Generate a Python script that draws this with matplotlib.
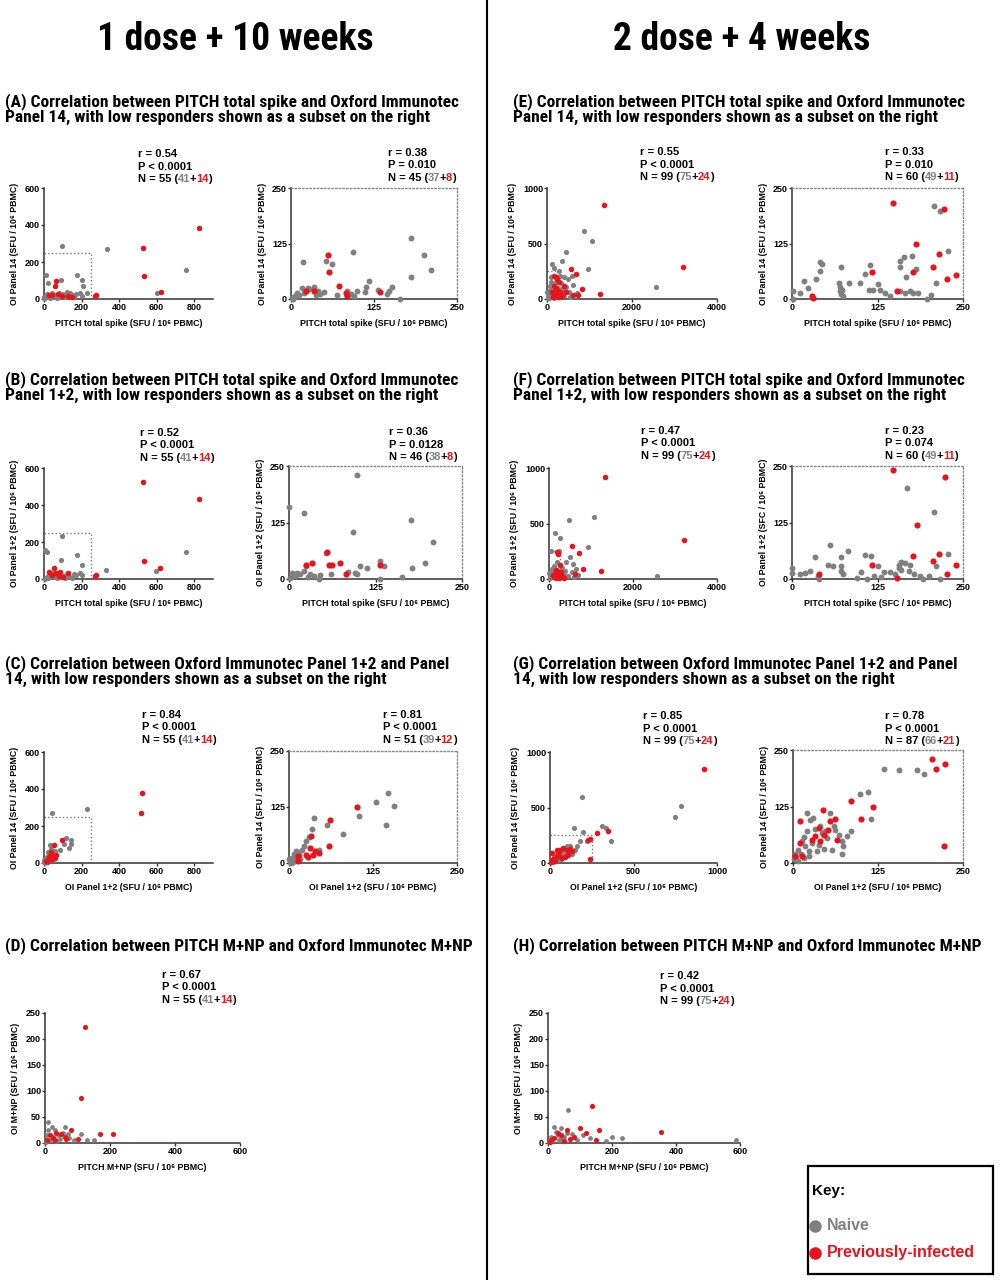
import numpy as np
import matplotlib
matplotlib.use('Agg')
import matplotlib.pyplot as plt
from matplotlib.patches import Rectangle

# ---------------- data ----------------
A_full_naive = [(98,288),(336,270),(754,158),(603,30),(178,131),(203,104),(208,68),(12,131),(21,86),(92,104),(120,40),(150,20),(170,25),(60,20),(40,20),(25,15),(10,10),(5,5),(80,30),(130,15),(110,10),(190,30),(230,35),(50,10),(70,5),(100,25),(140,30),(160,10),(30,5),(15,25),(85,15),(200,15),(45,30),(0,5),(2,12)]
A_full_prev = [(827,383),(528,275),(533,126),(62,95),(60,68),(279,23),(270,14),(622,38),(28,20),(40,22),(75,25),(95,15),(130,18),(150,12)]
A_sub_naive = [(18,84),(180,137),(94,106),(53,86),(61,78),(200,100),(211,65),(181,49),(118,40),(113,28),(99,17),(95,6),(131,21),(152,28),(148,17),(164,0),(34,28),(26,24),(16,24),(41,17),(44,12),(9,13),(4,4),(1,2),(111,15),(6,6),(12,10),(20,14),(27,22),(37,10),(50,15),(90,12),(145,12),(3,1),(85,18),(70,10),(2,3)]
A_sub_prev = [(55,98),(57,61),(72,30),(83,13),(84,6),(134,15),(34,19),(23,17)]

B_full_naive = [(94,230),(89,104),(176,128),(754,148),(599,41),(332,47),(203,77),(4,158),(18,144),(190,32),(172,23),(119,23),(60,10),(40,15),(20,8),(10,5),(30,20),(80,12),(100,18),(140,10),(160,25),(50,30),(70,5),(5,2),(110,8),(130,30),(150,5),(200,20),(25,30),(15,12)]
B_full_prev = [(528,524),(827,432),(532,99),(619,59),(53,59),(27,36),(84,36),(66,32),(130,32),(279,23),(270,18),(80,14),(40,20),(100,10)]
B_sub_naive = [(98,230),(0,159),(21,146),(93,105),(177,131),(208,81),(54,57),(103,28),(113,24),(131,39),(137,28),(178,24),(197,35),(132,0),(163,4),(95,13),(98,10),(31,12),(45,9),(36,6),(4,13),(7,6),(16,10),(24,28),(22,17),(10,9),(43,0),(60,10),(2,2),(12,14),(28,4),(85,15)]
B_sub_prev = [(25,32),(33,35),(55,60),(58,32),(62,32),(73,35),(83,12),(132,32)]

C_full_naive = [(229,290),(43,269),(142,104),(146,125),(133,81),(119,134),(30,98),(84,68),(57,63),(104,104),(35,75),(25,50),(20,35),(15,20),(10,10),(5,5),(2,15),(8,25),(12,5),(18,12),(40,30),(50,20),(30,15),(3,3),(60,40),(22,60),(0,8),(14,30)]
C_full_prev = [(524,381),(517,272),(98,125),(53,95),(30,36),(21,18),(57,27),(66,45),(35,60),(25,30),(40,40),(10,10),(15,5),(45,20)]
C_sub_naive = [(147,157),(129,137),(156,128),(144,84),(104,104),(81,64),(37,100),(34,76),(30,59),(57,84),(26,48),(23,38),(45,28),(19,30),(2,5),(5,12),(8,20),(10,26),(12,10),(15,18),(3,0),(6,2),(0,10),(14,25),(17,8),(9,15)]
C_sub_prev = [(101,124),(61,96),(60,37),(33,61),(31,33),(39,26),(35,18),(25,18),(29,13),(13,15),(14,4),(44,22)]

D_naive = [(10,40),(20,30),(5,15),(15,5),(40,15),(55,20),(75,10),(90,5),(130,5),(30,25),(45,8),(8,25),(110,18),(150,5),(60,30),(3,2),(25,12),(35,3),(70,18)]
D_prev = [(123,223),(110,87),(15,15),(25,10),(35,20),(50,18),(60,12),(80,25),(100,8),(170,18),(210,18),(5,5),(30,5),(65,8)]

E_full_naive = [(880,609),(1064,519),(456,420),(960,270),(344,339),(120,318),(160,279),(584,204),(2568,105),(300,210),(400,200),(500,180),(100,150),(200,150),(250,100),(350,90),(450,110),(520,60),(600,130),(60,80),(30,40),(80,30),(150,20),(50,10),(20,5),(300,40),(400,30),(700,50),(550,20),(10,60),(180,90),(120,100),(230,60),(330,140),(280,250),(90,200),(70,120),(40,20),(380,60),(160,10)]
E_full_prev = [(1336,849),(3208,285),(1248,48),(560,270),(688,225),(816,90),(736,39),(600,39),(160,210),(200,200),(240,180),(280,150),(160,120),(200,100),(240,80),(120,60),(180,50),(220,40),(300,60),(400,120),(450,60),(350,30),(130,20),(260,20)]
E_sub_naive = [(207,209),(217,198),(228,109),(164,94),(176,96),(158,85),(181,68),(158,72),(167,50),(210,37),(114,76),(106,57),(99,37),(112,21),(118,21),(126,33),(128,21),(136,13),(143,6),(158,17),(165,13),(172,17),(177,13),(184,13),(197,0),(203,10),(41,83),(44,78),(41,62),(35,45),(18,41),(24,24),(12,13),(1,19),(1,0),(71,73),(70,28),(73,21),(74,6),(68,35),(83,37),(72,12),(70,18)]
E_sub_prev = [(147,217),(222,202),(182,125),(215,101),(206,72),(177,61),(117,61),(226,45),(240,54),(154,17),(29,6),(31,3)]

F_full_naive = [(472,528),(1064,561),(936,284),(136,418),(256,373),(56,254),(240,254),(496,194),(576,134),(2576,24),(400,150),(300,100),(200,80),(100,60),(60,30),(150,20),(350,40),(450,30),(550,60),(650,90),(30,10),(10,50),(180,150),(120,120),(80,90),(700,40),(20,5),(250,40),(380,70),(600,20)]
F_full_prev = [(1336,919),(3208,352),(1240,69),(552,293),(712,233),(816,90),(616,45),(216,224),(256,125),(192,239),(180,60),(220,40),(260,30),(150,30),(300,25),(200,20),(240,50),(170,80),(120,15),(350,10),(280,60),(100,40),(230,10),(160,5)]
F_sub_naive = [(168,201),(208,148),(228,56),(210,28),(216,0),(82,63),(55,76),(34,48),(72,48),(106,54),(116,51),(126,28),(134,15),(144,15),(156,32),(160,37),(165,35),(172,32),(171,17),(157,24),(179,10),(191,0),(201,6),(187,6),(101,15),(109,0),(71,28),(71,17),(75,10),(60,28),(52,32),(40,0),(38,6),(26,17),(19,13),(11,12),(0,24),(0,13),(120,6),(160,20),(150,12),(130,5),(95,2)]
F_sub_prev = [(147,241),(223,225),(183,120),(177,51),(215,56),(206,39),(117,32),(226,12),(240,32),(154,2),(39,11)]

G_full_naive = [(190,597),(786,513),(750,412),(314,334),(334,319),(366,194),(200,275),(146,319),(180,200),(220,200),(100,155),(120,149),(70,110),(80,90),(60,70),(40,60),(30,40),(20,30),(10,20),(50,30),(90,60),(110,100),(130,80),(150,120),(5,10),(25,50),(45,90),(65,40),(15,5),(35,15),(160,150)]
G_full_prev = [(924,845),(350,290),(284,269),(230,203),(240,36),(60,119),(80,134),(100,119),(110,75),(40,60),(20,30),(50,90),(10,90),(70,45),(130,105),(240,220),(30,15),(55,60),(90,50),(15,40),(44,118),(5,5),(120,125)]
G_sub_naive = [(134,209),(156,206),(182,206),(192,198),(99,152),(110,156),(115,98),(72,48),(74,37),(57,28),(54,110),(30,99),(20,110),(25,96),(33,75),(20,70),(16,57),(13,48),(18,37),(8,29),(3,21),(1,9),(40,82),(47,70),(60,81),(67,62),(79,59),(42,66),(35,27),(23,15),(16,11),(8,4),(72,21),(23,26),(50,55),(28,45),(38,40),(12,20),(5,12),(62,72),(85,70),(45,30)]
G_sub_prev = [(205,229),(224,218),(211,208),(222,37),(118,125),(86,137),(100,98),(44,118),(55,94),(11,92),(10,44),(52,74),(33,59),(38,77),(40,48),(64,51),(13,15),(3,16),(45,62),(28,50),(62,98)]

H_naive = [(62,63),(587,6),(230,10),(10,12),(20,30),(30,15),(45,8),(60,20),(90,5),(110,15),(8,3),(15,8),(25,22),(35,5),(50,12),(75,18),(130,10),(180,4),(200,12),(2,1),(40,28)]
H_prev = [(137,71),(353,21),(60,25),(100,28),(120,20),(160,25),(40,15),(20,10),(10,5),(30,20),(80,12),(150,5),(70,8),(5,2),(50,3)]

# stats: r, P, N, naive n, previously-infected n
stats_A = [("0.54", "P < 0.0001", "55", "41", "14"), ("0.38", "P = 0.010", "45", "37", "8")]
stats_B = [("0.52", "P < 0.0001", "55", "41", "14"), ("0.36", "P = 0.0128", "46", "38", "8")]
stats_C = [("0.84", "P < 0.0001", "55", "41", "14"), ("0.81", "P < 0.0001", "51", "39", "12")]
stats_D = ("0.67", "P < 0.0001", "55", "41", "14")
stats_E = [("0.55", "P < 0.0001", "99", "75", "24"), ("0.33", "P = 0.010", "60", "49", "11")]
stats_F = [("0.47", "P < 0.0001", "99", "75", "24"), ("0.23", "P = 0.074", "60", "49", "11")]
stats_G = [("0.85", "P < 0.0001", "99", "75", "24"), ("0.78", "P < 0.0001", "87", "66", "21")]
stats_H = ("0.42", "P < 0.0001", "99", "75", "24")

GREY = '#808080'
RED = '#e8141c'
FONT = ['Liberation Sans', 'DejaVu Sans']
NARROW = ['Roboto Condensed', 'Liberation Sans Narrow', 'Liberation Sans', 'DejaVu Sans']
plt.rcParams['font.family'] = FONT

fig = plt.figure(figsize=(10, 12.8), dpi=100)
ov = fig.add_axes([0, 0, 1, 1])
ov.set_xlim(0, 1000); ov.set_ylim(1280, 0); ov.axis('off')
ov.patch.set_alpha(0)

ov.plot([487, 487], [0, 1280], color='black', lw=1.5)

ov.text(235, 40, "1 dose + 10 weeks", family=NARROW, fontsize=27, fontweight='bold', ha='center', va='center')
ov.text(742, 40, "2 dose + 4 weeks", family=NARROW, fontsize=27, fontweight='bold', ha='center', va='center')

def heading(x, y, s):
    ov.text(x, y, s, family=NARROW, fontsize=12.5, fontweight='bold', ha='left', va='center', linespacing=1.05)

heading(5, 109, "(A) Correlation between PITCH total spike and Oxford Immunotec\nPanel 14, with low responders shown as a subset on the right")
heading(5, 387, "(B) Correlation between PITCH total spike and Oxford Immunotec\nPanel 1+2, with low responders shown as a subset on the right")
heading(5, 671, "(C) Correlation between Oxford Immunotec Panel 1+2 and Panel\n14, with low responders shown as a subset on the right")
heading(5, 946, "(D) Correlation between PITCH M+NP and Oxford Immunotec M+NP")
heading(513, 109, "(E) Correlation between PITCH total spike and Oxford Immunotec\nPanel 14, with low responders shown as a subset on the right")
heading(513, 387, "(F) Correlation between PITCH total spike and Oxford Immunotec\nPanel 1+2, with low responders shown as a subset on the right")
heading(513, 671, "(G) Correlation between Oxford Immunotec Panel 1+2 and Panel\n14, with low responders shown as a subset on the right")
heading(513, 946, "(H) Correlation between PITCH M+NP and Oxford Immunotec M+NP")

def stats(x, y, st):
    r, p, n, a, b = st
    kw = dict(fontsize=8, fontweight='bold')
    ov.text(x, y, f"r = {r}", ha='left', va='center', **kw)
    ov.text(x, y + 12.5, p, ha='left', va='center', **kw)
    t = ov.text(x, y + 25, f"N = {n} (", ha='left', va='center', **kw)
    for s, c in [(a, GREY), ("+", 'black'), (b, RED), (")", 'black')]:
        t = ov.annotate(s, xy=(1, 0), xycoords=t, xytext=(-0.3, 0), textcoords='offset points',
                        ha='left', va='bottom', color=c, **kw)

TICKFS = 6.5
LABFS = 6.3

def panel(rect, naive, prev, xlim, ylim, xticks, yticks, xlabel, ylabel, sub=False, box=None, ms=14):
    l, t, r, b = rect
    ax = fig.add_axes([l / 1000, 1 - b / 1280, (r - l) / 1000, (b - t) / 1280])
    nx, ny = np.array(naive, dtype=float).T
    px, py = np.array(prev, dtype=float).T
    ax.scatter(nx, ny, s=ms, c=GREY, lw=0, zorder=3, clip_on=False)
    ax.scatter(px, py, s=ms + 2, c=RED, lw=0, zorder=4, clip_on=False)
    ax.set_xlim(*xlim); ax.set_ylim(*ylim)
    ax.set_xticks(xticks); ax.set_yticks(yticks)
    ax.set_xticklabels([str(v) for v in xticks], fontsize=TICKFS, fontweight='bold')
    ax.set_yticklabels([str(v) for v in yticks], fontsize=TICKFS, fontweight='bold')
    ax.tick_params(length=2, width=1, pad=0.8, color='#333333')
    for sp in ['left', 'bottom']:
        ax.spines[sp].set_color('#333333'); ax.spines[sp].set_linewidth(1.1)
    if sub:
        for sp in ['top', 'right']:
            ax.spines[sp].set_color('#888888'); ax.spines[sp].set_linestyle(':'); ax.spines[sp].set_linewidth(1.0)
    else:
        ax.spines['top'].set_visible(False); ax.spines['right'].set_visible(False)
    if box:
        ax.plot([0, box, box], [box, box, 0], ls=':', color='#777777', lw=1.0, zorder=2)
    ax.set_xlabel(xlabel, fontsize=LABFS, fontweight='bold', labelpad=5, family=FONT)
    ax.set_ylabel(ylabel, fontsize=LABFS, fontweight='bold', labelpad=4, family=FONT)
    ax.patch.set_alpha(0)
    return ax

U = "(SFU / 10⁶ PBMC)"
C_ = "(SFC / 10⁶ PBMC)"
full_ticks = [0, 200, 400, 600, 800]
sub_ticks = [0, 125, 250]

# row A / E
panel((44, 188, 213, 299), A_full_naive, A_full_prev, (0, 900), (0, 600), full_ticks, [0, 200, 400, 600],
      "PITCH total spike " + U, "OI Panel 14 " + U, box=250)
panel((291, 188, 457, 299), A_sub_naive, A_sub_prev, (0, 250), (0, 250), sub_ticks, sub_ticks,
      "PITCH total spike " + U, "OI Panel 14 " + U, sub=True, ms=18)
panel((547, 188, 717, 299), E_full_naive, E_full_prev, (0, 4000), (0, 1000), [0, 2000, 4000], [0, 500, 1000],
      "PITCH total spike " + U, "OI Panel 14 " + U, box=250)
panel((792, 188, 963, 299), E_sub_naive, E_sub_prev, (0, 250), (0, 250), sub_ticks, sub_ticks,
      "PITCH total spike " + U, "OI Panel 14 " + U, sub=True, ms=18)
stats(138, 154, stats_A[0]); stats(388, 153, stats_A[1])
stats(640, 152, stats_E[0]); stats(885, 152, stats_E[1])

# row B / F
panel((44, 468, 213, 579), B_full_naive, B_full_prev, (0, 900), (0, 600), full_ticks, [0, 200, 400, 600],
      "PITCH total spike " + U, "OI Panel 1+2 " + U, box=250)
panel((289, 466, 462, 579), B_sub_naive, B_sub_prev, (0, 250), (0, 250), sub_ticks, sub_ticks,
      "PITCH total spike " + U, "OI Panel 1+2 " + U, sub=True, ms=18)
panel((549, 468, 717, 579), F_full_naive, F_full_prev, (0, 4000), (0, 1000), [0, 2000, 4000], [0, 500, 1000],
      "PITCH total spike " + U, "OI Panel 1+2 " + U, box=250)
panel((792, 466, 963, 579), F_sub_naive, F_sub_prev, (0, 250), (0, 250), sub_ticks, sub_ticks,
      "PITCH total spike " + C_, "OI Panel 1+2 " + C_, sub=True, ms=18)
stats(140, 433, stats_B[0]); stats(389, 432, stats_B[1])
stats(641, 431, stats_F[0]); stats(885, 431, stats_F[1])

# row C / G
panel((44, 752, 213, 863), C_full_naive, C_full_prev, (0, 900), (0, 600), full_ticks, [0, 200, 400, 600],
      "OI Panel 1+2 " + U, "OI Panel 14 " + U, box=250)
panel((289, 751, 457, 863), C_sub_naive, C_sub_prev, (0, 250), (0, 250), sub_ticks, sub_ticks,
      "OI Panel 1+2 " + U, "OI Panel 14 " + U, sub=True, ms=18)
panel((550, 752, 717, 863), G_full_naive, G_full_prev, (0, 1000), (0, 1000), [0, 500, 1000], [0, 500, 1000],
      "OI Panel 1+2 " + U, "OI Panel 14 " + U, box=250)
panel((793, 750, 963, 863), G_sub_naive, G_sub_prev, (0, 250), (0, 250), sub_ticks, sub_ticks,
      "OI Panel 1+2 " + U, "OI Panel 14 " + U, sub=True, ms=18)
stats(142, 715, stats_C[0]); stats(383, 715, stats_C[1])
stats(643, 716, stats_G[0]); stats(885, 716, stats_G[1])

# row D / H
panel((45, 1013, 240, 1143), D_naive, D_prev, (0, 600), (0, 250), [0, 200, 400, 600], [0, 50, 100, 150, 200, 250],
      "PITCH M+NP " + U, "OI M+NP " + U, ms=12)
panel((548, 1013, 740, 1143), H_naive, H_prev, (0, 600), (0, 250), [0, 200, 400, 600], [0, 50, 100, 150, 200, 250],
      "PITCH M+NP " + U, "OI M+NP " + U, ms=12)
stats(162, 975, stats_D); stats(660, 976, stats_H)

# key
ov.add_patch(Rectangle((808, 1166), 185, 108, fill=False, lw=1.6, ec='black'))
ov.text(812, 1191, "Key:", fontsize=11, fontweight='bold', ha='left', va='center')
ov.plot([815], [1226], 'o', ms=8, color=GREY, mec=GREY)
ov.text(827, 1226, "Naive", fontsize=11.5, fontweight='bold', color=GREY, ha='left', va='center')
ov.plot([815], [1253], 'o', ms=8, color=RED, mec=RED)
ov.text(827, 1253, "Previously-infected", fontsize=11.5, fontweight='bold', color=RED, ha='left', va='center')

fig.savefig('out.png', dpi=100)
